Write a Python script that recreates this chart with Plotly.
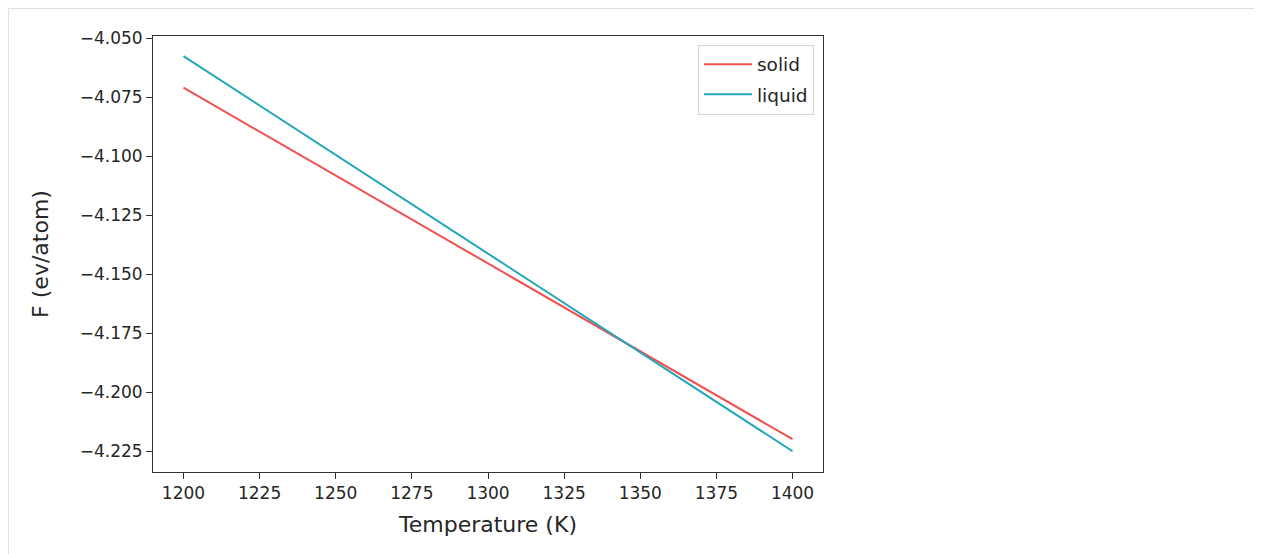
import plotly.graph_objects as go

temperature = [1200, 1250, 1300, 1350, 1400]
f_solid = [-4.0710, -4.1083, -4.1455, -4.1828, -4.2200]
f_liquid = [-4.0576, -4.0995, -4.1414, -4.1833, -4.2251]

x_ticks = [1200, 1225, 1250, 1275, 1300, 1325, 1350, 1375, 1400]
y_ticks = [-4.050, -4.075, -4.100, -4.125, -4.150, -4.175, -4.200, -4.225]

RED = "#f0504e"
TEAL = "#20a6b8"
FONT = "DejaVu Sans"
TXT = "#262626"

fig = go.Figure()
fig.add_trace(go.Scatter(x=temperature, y=f_solid, mode="lines", name="solid",
                         line=dict(color=RED, width=2), legendgroup="a"))
fig.add_trace(go.Scatter(x=temperature, y=f_liquid, mode="lines", name="liquid",
                         line=dict(color=TEAL, width=2), legendgroup="b"))

# page body has an 8px margin; compensate so the plot lands at the target pixels
OFF = 8
W, H = 1262 - OFF, 554 - OFF
L, R, T, B = 153 - OFF, 823 - OFF, 36 - OFF, 472 - OFF
pw, ph = R - L, B - T

def px(xp):
    return (xp - L) / pw

def py(yp):
    return (B - yp) / ph

axis_common = dict(showline=True, linecolor="#333333", linewidth=1, mirror=True,
                   ticks="outside", ticklen=6, tickwidth=1, tickcolor="#333333",
                   showgrid=False, zeroline=False,
                   tickfont=dict(family=FONT, size=17, color=TXT))

fig.update_layout(
    width=W, height=H, autosize=False,
    margin=dict(l=L, r=W - R, t=T, b=H - B, pad=0),
    paper_bgcolor="white", plot_bgcolor="white",
    font=dict(family=FONT, color=TXT),
    xaxis=dict(range=[1190, 1410], tickvals=x_ticks,
               ticktext=[str(v) for v in x_ticks],
               title=dict(text="Temperature (K)", font=dict(family=FONT, size=22, color=TXT),
                          standoff=14),
               **axis_common),
    yaxis=dict(range=[-4.2339, -4.0491], tickvals=y_ticks, tickformat=".3f",
               title=dict(text="F (ev/atom)", font=dict(family=FONT, size=22, color=TXT),
                          standoff=24),
               **axis_common),
    legend=dict(x=0.9865, y=0.98, xanchor="right", yanchor="top",
                bgcolor="white", bordercolor="#d6d6d6", borderwidth=1,
                font=dict(family=FONT, size=18.5, color=TXT),
                tracegroupgap=3, itemwidth=48),
    showlegend=True,
    shapes=[dict(type="rect", xref="paper", yref="paper",
                 x0=px(0.5), x1=px(1300), y0=py(700), y1=py(0.5),
                 line=dict(color="#e0e0e0", width=1), fillcolor="rgba(0,0,0,0)", layer="below")],
)

fig.write_html("out.html")
